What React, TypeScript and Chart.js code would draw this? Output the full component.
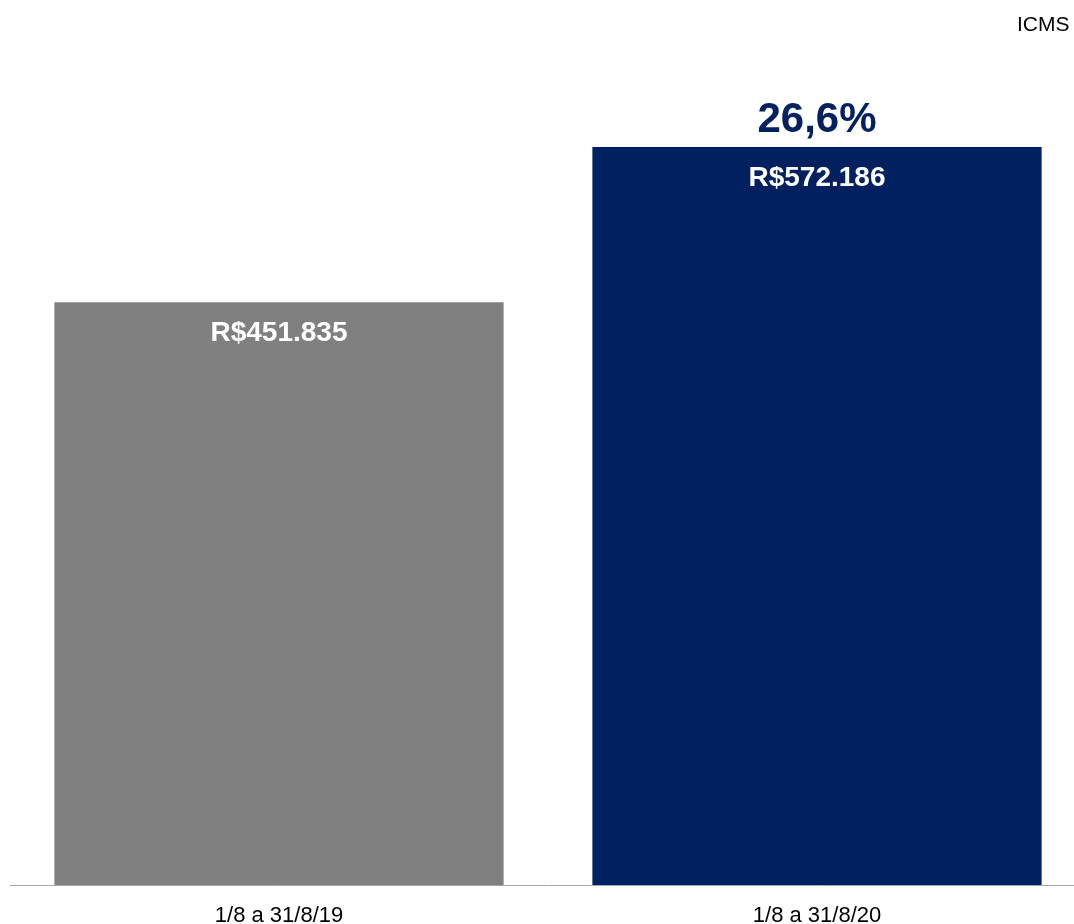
import React, { useEffect, useRef } from "react";
import { Chart, registerables } from "chart.js";

Chart.register(...registerables);

const categories = ["1/8 a 31/8/19", "1/8 a 31/8/20"];
const values = [451835, 572186];
const valueLabels = ["R$451.835", "R$572.186"];
const growthLabel = "26,6%";
const chartTitle = "ICMS";
const barColors = ["#808080", "#002060"];

const FONT = "'Liberation Sans', Arial, sans-serif";

const labelPlugin = {
  id: "labelPlugin",
  afterDatasetsDraw(chart: any) {
    const ctx = chart.ctx;
    const meta = chart.getDatasetMeta(0);
    ctx.save();
    ctx.textAlign = "center";
    ctx.textBaseline = "middle";
    meta.data.forEach((bar: any, i: number) => {
      ctx.fillStyle = "#ffffff";
      ctx.font = `bold 28px ${FONT}`;
      ctx.fillText(valueLabels[i], bar.x, bar.y + 31);
    });
    const last = meta.data[meta.data.length - 1];
    ctx.fillStyle = "#002060";
    ctx.font = `bold 42px ${FONT}`;
    ctx.fillText(growthLabel, last.x, last.y - 26);
    ctx.fillStyle = "#000000";
    ctx.font = `21px ${FONT}`;
    ctx.textAlign = "left";
    ctx.fillText(chartTitle, 1017, 25);
    ctx.restore();
  },
};

export default function App() {
  const ref = useRef<HTMLCanvasElement | null>(null);
  useEffect(() => {
    if (!ref.current) return;
    const chart = new Chart(ref.current, {
      type: "bar",
      data: {
        labels: categories,
        datasets: [
          {
            data: values,
            backgroundColor: barColors,
            borderWidth: 0,
            barPercentage: 0.835,
            categoryPercentage: 1,
          },
        ],
      },
      options: {
        animation: false,
        responsive: false,
        devicePixelRatio: 1,
        layout: { padding: { left: 10, right: 0, top: 111, bottom: 0 } },
        plugins: { legend: { display: false }, tooltip: { enabled: false } },
        scales: {
          x: {
            grid: { display: false, drawTicks: false },
            border: { display: true, color: "#a6a6a6", width: 1 },
            ticks: { color: "#000000", font: { family: FONT, size: 22 }, padding: 18 },
            afterFit: (scale: any) => {
              scale.height = 39;
            },
          },
          y: { display: false, min: 0, max: 600000 },
        },
      },
      plugins: [labelPlugin],
    });
    return () => chart.destroy();
  }, []);
  return (
    <div style={{ position: "absolute", left: 0, top: 0, width: 1074, height: 924, overflow: "hidden", background: "#fff" }}>
      <canvas ref={ref} width={1086} height={924} style={{ display: "block", width: 1086, height: 924 }} />
    </div>
  );
}
